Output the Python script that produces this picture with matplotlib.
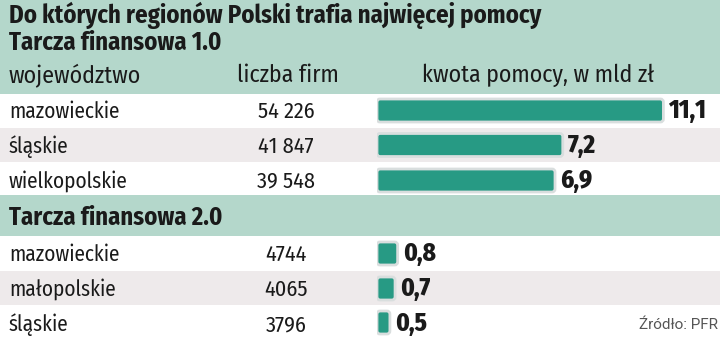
import matplotlib.pyplot as plt
from matplotlib.patches import FancyBboxPatch, Rectangle

# data
title = "Do których regionów Polski trafia najwięcej pomocy"
groups = ["Tarcza finansowa 1.0", "Tarcza finansowa 2.0"]
col_headers = ["województwo", "liczba firm", "kwota pomocy, w mld zł"]
regions_1 = ["mazowieckie", "śląskie", "wielkopolskie"]
firms_1 = ["54 226", "41 847", "39 548"]
amount_1 = [11.1, 7.2, 6.9]
regions_2 = ["mazowieckie", "małopolskie", "śląskie"]
firms_2 = ["4744", "4065", "3796"]
amount_2 = [0.8, 0.7, 0.5]
source = "Źródło: PFR"

cond = ["Fira Sans Condensed", "DejaVu Sans"]
wide = ["Fira Sans", "DejaVu Sans"]

band = "#b4d7cb"
stripe = "#eeeaeb"
teal = "#279a84"
ink = "#1a1a1a"

W, H = 720, 352
fig = plt.figure(figsize=(W / 100, H / 100), dpi=100)
ax = fig.add_axes([0, 0, 1, 1])
ax.set_xlim(0, W)
ax.set_ylim(H, 0)
ax.axis("off")

# background bands (pixels)
ax.add_patch(Rectangle((0, 0), W, 94, color=band, lw=0))
ax.add_patch(Rectangle((0, 128), W, 34, color=stripe, lw=0))
ax.add_patch(Rectangle((0, 195), W, 41, color=band, lw=0))
ax.add_patch(Rectangle((0, 271), W, 34, color=stripe, lw=0))

ax.text(9, 23, title, fontsize=17.8, fontweight="bold", family=cond, va="baseline", color=ink)
ax.text(9, 50, groups[0], fontsize=17.8, fontweight="bold", family=cond, va="baseline", color=ink)
ax.text(9, 82, col_headers[0], fontsize=17.2, family=cond, va="baseline", color=ink)
ax.text(237, 82, col_headers[1], fontsize=17.2, family=cond, va="baseline", color=ink)
ax.text(422, 82, col_headers[2], fontsize=17.2, family=cond, va="baseline", color=ink)
ax.text(9, 225, groups[1], fontsize=17.8, fontweight="bold", family=cond, va="baseline", color=ink)

base_1 = [118, 153, 188]
base_2 = [261, 296, 331]
for ys, regs, firms in [(base_1, regions_1, firms_1), (base_2, regions_2, firms_2)]:
    for y, r, f in zip(ys, regs, firms):
        ax.text(9, y, r, fontsize=15.3, family=cond, va="baseline", color=ink)
        ax.text(286, y, f, fontsize=16, family=cond, va="baseline", ha="center", color=ink)

ax.text(718, 329, source, fontsize=11, family="Roboto", va="baseline", ha="right", color="#555555")

# bar axes: x in mld zł, y in pixels
px_per_unit = 25.8
x0 = 377
bx = fig.add_axes([x0 / W, 0, 13 * px_per_unit / W, 1])
bx.set_xlim(0, 13)
bx.set_ylim(H, 0)
bx.axis("off")
bx.patch.set_alpha(0)

rows_1 = [110.5, 145, 180.5]
rows_2 = [253.5, 288.5, 322.5]
bar_h = 23
rnd = 3 / px_per_unit
for ys, bases, vals in [(rows_1, base_1, amount_1), (rows_2, base_2, amount_2)]:
    bars = bx.barh(ys, vals, height=bar_h, color="none", lw=0)
    for b, yb, v in zip(bars, bases, vals):
        p = FancyBboxPatch((b.get_x(), b.get_y()), b.get_width(), b.get_height(),
                           boxstyle=f"round,pad=0,rounding_size={rnd}",
                           mutation_aspect=px_per_unit,
                           fc=teal, ec="#d9dede", lw=2)
        bx.add_patch(p)
        bx.text(v + 5 / px_per_unit, yb, f"{v:.1f}".replace(".", ","),
                fontsize=18, fontweight="heavy", family=cond, va="baseline", color=ink)

fig.savefig("out.png", dpi=100, facecolor="white")
